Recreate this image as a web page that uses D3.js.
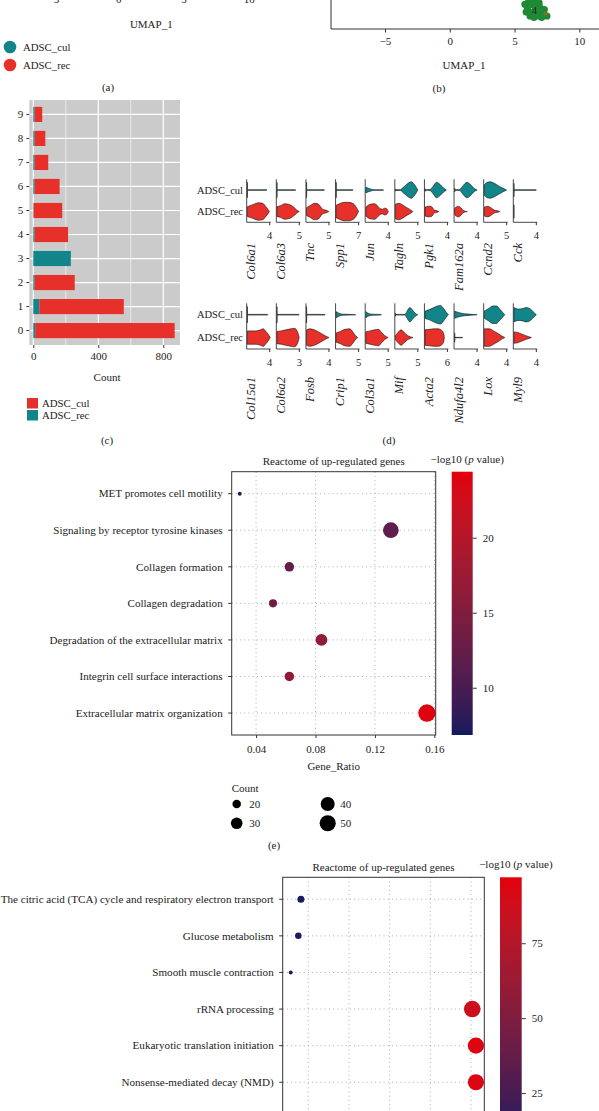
<!DOCTYPE html>
<html><head><meta charset="utf-8">
<script src="https://cdn.jsdelivr.net/npm/d3@7"></script>
<style>
html,body{margin:0;padding:0;background:#fff;}
svg{display:block;font-family:"Liberation Serif","Times New Roman",serif;}
</style></head>
<body>
<svg id="fig" width="599" height="1111"></svg>
<script>
// ---------------- DATA ----------------
// panel (a) / (b) UMAP
const umapTicks = [-5, 0, 5, 10];
const groupsA = ["ADSC_cul", "ADSC_rec"];
const blobPoints = [[6.0,-8.0],[6.3,-7.6],[6.6,-7.8],[6.9,-8.1],[7.2,-8.4],[6.2,-8.5],[6.5,-8.6],[6.8,-8.5],[7.1,-8.6],[5.8,-7.6],[6.1,-7.3],[7.3,-8.0],[7.5,-8.5],[6.4,-8.2],[6.9,-7.5],[5.9,-8.2],[6.6,-7.4],[7.0,-7.9]];
const blobOdd = [[7.4,-8.3]];
const blobLabel = "4";

// panel (c) cluster composition
const clusters = ["0","1","2","3","4","5","6","7","8","9"];
const countRec = [12, 37, 8, 231, 8, 2, 8, 8, 8, 8];
const countCul = [858, 520, 247, 0, 206, 176, 154, 84, 66, 47];
const countTicks = [0, 400, 800];
const countMinor = [200, 600];

// panel (d) stacked violins: [expression, density] profiles
const genesTop = ["Col6a1","Col6a3","Tnc","Spp1","Jun","Tagln","Pgk1","Fam162a","Ccnd2","Cck"];
const ticksTop = [4,5,5,7,4,5,4,4,5,4];
const culTop = [
  [[0,0.8],[0.05,0.04],[0.3,0.03],[3.5,0.03],[3.6,0]],
  [[0,0.8],[0.05,0.04],[0.3,0.03],[4.2,0.03],[4.3,0]],
  [[0,0.8],[0.05,0.04],[0.3,0.03],[4.0,0.03],[4.1,0]],
  [[0,0.8],[0.05,0.04],[0.3,0.03],[5.3,0.03],[5.4,0]],
  [[0,0.28],[0.8,0.12],[1.6,0.03],[3.2,0.02],[3.25,0]],
  [[0,0.12],[0.1,0.04],[1.1,0.04],[1.6,0.2],[2.6,0.6],[3.6,0.85],[4.3,0.6],[4.8,0.25],[5.1,0]],
  [[0,0.15],[0.08,0.03],[0.9,0.05],[1.5,0.4],[2.1,0.8],[2.8,0.55],[3.4,0.2],[3.9,0]],
  [[0,0.2],[0.08,0.03],[0.9,0.05],[1.6,0.5],[2.25,0.8],[3.0,0.5],[3.6,0.15],[4.1,0]],
  [[0,0.55],[0.7,0.8],[1.4,0.85],[2.3,0.7],[3.2,0.45],[4.2,0.2],[5.1,0]],
  [[0,0.7],[0.05,0.03],[2.0,0.03],[4.05,0.02],[4.1,0]]
];
const recTop = [
  [[0,0.5],[0.5,0.6],[1.2,0.75],[2.0,0.9],[2.8,0.85],[3.4,0.5],[3.8,0.2],[4.03,0]],
  [[0,0.5],[0.8,0.6],[1.8,0.8],[2.6,0.75],[3.4,0.6],[4.2,0.3],[4.7,0.1],[5.1,0]],
  [[0,0.4],[0.8,0.6],[1.8,0.85],[2.6,0.8],[3.2,0.5],[3.8,0.2],[4.4,0.15],[5.1,0]],
  [[0,0.65],[1.0,0.8],[2.5,0.95],[4.0,0.95],[5.5,0.8],[6.5,0.4],[7.15,0]],
  [[0,0.45],[0.8,0.75],[1.6,0.8],[2.2,0.55],[2.6,0.3],[3.1,0.25],[3.4,0.35],[3.8,0.3],[4.1,0]],
  [[0,0.75],[0.8,0.85],[1.6,0.7],[2.4,0.45],[3.2,0.25],[4.0,0]],
  [[0,0.45],[0.6,0.55],[1.2,0.5],[1.7,0.15],[2.2,0.08],[2.5,0]],
  [[0,0.35],[0.7,0.55],[1.2,0.35],[1.6,0.1],[2.3,0]],
  [[0,0.45],[0.8,0.55],[1.5,0.4],[2.3,0.15],[3.0,0.08],[3.55,0]],
  [[0,0.7],[0.02,0]]
];
const genesBot = ["Col15a1","Col6a2","Fosb","Crip1","Col3a1","Mif","Acta2","Ndufa4l2","Lox","Myl9"];
const ticksBot = [4,3,4,5,5,5,6,4,4,4];
const culBot = [
  [[0,0.8],[0.05,0.03],[0.3,0.03],[3.7,0.03],[3.75,0]],
  [[0,0.8],[0.05,0.03],[0.3,0.03],[3.0,0.03],[3.05,0]],
  [[0,0.8],[0.05,0.03],[0.3,0.03],[3.35,0.03],[3.4,0]],
  [[0,0.3],[0.6,0.15],[1.5,0.05],[3.5,0.03],[4.45,0]],
  [[0,0.3],[0.5,0.15],[1.5,0.05],[3.5,0.02],[3.55,0]],
  [[0,0.15],[0.05,0.03],[2.2,0.03],[2.6,0.3],[3.3,0.7],[3.9,0.45],[4.5,0.15],[5.1,0]],
  [[0,0.35],[1.2,0.5],[2.4,0.7],[3.4,0.85],[4.2,0.9],[5.2,0.55],[5.9,0.2],[6.4,0]],
  [[0,0.35],[0.8,0.2],[1.8,0.1],[3.0,0.04],[4.1,0]],
  [[0,0.35],[0.8,0.6],[1.6,0.85],[2.2,0.85],[2.9,0.5],[3.4,0.2],[3.75,0]],
  [[0,0.7],[0.8,0.55],[1.6,0.6],[2.2,0.7],[2.9,0.6],[3.5,0.3],[4.1,0]]
];
const recBot = [
  [[0,0.65],[0.8,0.65],[1.6,0.65],[2.4,0.75],[2.9,0.85],[3.4,0.6],[3.9,0.25],[4.2,0]],
  [[0,0.6],[0.6,0.65],[1.2,0.75],[1.9,0.85],[2.4,0.9],[2.8,0.6],[3.05,0]],
  [[0,0.75],[0.6,0.85],[1.4,0.75],[2.2,0.55],[3.0,0.3],[3.6,0.12],[4.1,0]],
  [[0,0.45],[1.0,0.6],[2.0,0.8],[3.1,0.85],[3.8,0.55],[4.4,0.2],[4.9,0]],
  [[0,0.55],[1.0,0.65],[2.0,0.75],[2.9,0.8],[3.6,0.5],[4.3,0.2],[5.1,0]],
  [[0,0.2],[0.6,0.5],[1.3,0.75],[2.0,0.5],[2.8,0.2],[3.4,0.08],[4.0,0]],
  [[0,0.75],[1.2,0.8],[2.4,0.85],[3.6,0.85],[4.6,0.7],[5.1,0.4],[5.3,0]],
  [[0,0.45],[0.03,0.02],[1.4,0.02],[1.45,0]],
  [[0,0.85],[0.9,0.85],[1.7,0.65],[2.5,0.4],[3.2,0.15],[3.75,0]],
  [[0,0.55],[0.7,0.5],[1.4,0.35],[2.2,0.18],[3.2,0]]
];

// panel (e) enrichment dot plot
const termsE = ["MET promotes cell motility","Signaling by receptor tyrosine kinases","Collagen formation","Collagen degradation","Degradation of the extracellular matrix","Integrin cell surface interactions","Extracellular matrix organization"];
const ratioE = [0.029, 0.1307, 0.0624, 0.0514, 0.084, 0.0624, 0.155];
const countE = [11, 48, 23, 19, 31, 23, 57];
const logpE = [7.5, 12.0, 12.5, 13.5, 16.3, 16.5, 24.0];
const ratioTicksE = [0.04, 0.08, 0.12, 0.16];
const logpTicksE = [10, 15, 20];
const sizeLegend = [20, 30, 40, 50];

// panel (f) enrichment dot plot (cropped)
const termsF = ["The citric acid (TCA) cycle and respiratory electron transport","Glucose metabolism","Smooth muscle contraction","rRNA processing","Eukaryotic translation initiation","Nonsense-mediated decay (NMD)",""];
const ratioF = [0.041, 0.0378, 0.0285, 0.2515, 0.256, 0.256, 0.2515];
const countF = [20, 18, 11, 80, 76, 76, 74];
const logpF = [12, 12, 11, 86, 94, 94, 90];
const ratioTicksF = [0.05, 0.10, 0.15, 0.20, 0.25];
const logpTicksF = [25, 50, 75];

// ---------------- DRAW ----------------
const svg = d3.select("#fig");
const TEAL = "#12858b", RED = "#e8302a", DARK = "#333";
const FS = 11;
function txt(g, x, y, s, anchor, size, extra) {
  const t = g.append("text").attr("x", x).attr("y", y).attr("text-anchor", anchor || "middle")
    .attr("font-size", size || FS).attr("fill", "#222").text(s);
  if (extra) extra(t);
  return t;
}
function styleAxisText(ax, size) {
  ax.selectAll("text").attr("font-family", "Liberation Serif").attr("font-size", size).attr("fill", "#222");
}

// ----- panel (a) remnants -----
(function(){
  const g = svg.append("g");
  const x = d3.scaleLinear().domain([-5, 10]).range([53.3, 249.3]);
  umapTicks.forEach(v => txt(g, x(v), 3, v < 0 ? "\u22125" : String(v), "middle", 11));
  txt(g, x(2.5), 28, "UMAP_1", "middle", 11);
  const cy = d3.scalePoint().domain(groupsA).range([47, 65]);
  const col = d3.scaleOrdinal().domain(groupsA).range([TEAL, RED]);
  groupsA.forEach(k => {
    g.append("circle").attr("cx", 10).attr("cy", cy(k)).attr("r", 6.3).attr("fill", col(k));
    txt(g, 23, cy(k) + 3.8, k, "start", 10.8);
  });
  txt(g, 108, 91, "(a)");
})();

// ----- panel (b) remnants -----
(function(){
  const g = svg.append("g");
  const x = d3.scaleLinear().domain([-5, 10]).range([385, 579.3]);
  const y = d3.scaleLinear().domain([-9.5, -7.27]).range([29, 0]);
  g.append("line").attr("x1", 331).attr("x2", 331).attr("y1", 0).attr("y2", 29).attr("stroke", DARK).attr("stroke-width", 1);
  const ax = g.append("g").attr("transform", "translate(0,29)")
    .call(d3.axisBottom(x).tickValues(umapTicks).tickSize(3.5).tickFormat(d => d < 0 ? "\u2212" + (-d) : d));
  ax.select(".domain").attr("d", "M331,0H599").attr("stroke", DARK);
  ax.selectAll(".tick line").attr("stroke", DARK);
  styleAxisText(ax, 11); ax.selectAll("text").attr("dy", "0.9em");
  g.selectAll("circle.b").data(blobPoints).join("circle").attr("class","b")
    .attr("cx", d => x(d[0])).attr("cy", d => y(d[1])).attr("r", 3.6).attr("fill", "#1f8a35");
  g.selectAll("circle.o").data(blobOdd).join("circle").attr("class","o")
    .attr("cx", d => x(d[0])).attr("cy", d => y(d[1])).attr("r", 2).attr("fill", "#8a6f1f");
  txt(g, x(6.55), y(-8.05) + 3.5, blobLabel, "middle", 10);
  txt(g, 464, 69, "UMAP_1", "middle", 11);
  txt(g, 439, 92, "(b)");
})();

// ----- panel (c) -----
(function(){
  const g = svg.append("g");
  const left = 29.3, right = 180, top = 100, bottom = 345;
  const x = d3.scaleLinear().domain([-24.6, 902.8]).range([left, right]);
  const y = d3.scaleBand().domain(clusters.slice().reverse()).range([top, bottom]).paddingInner(0.37).paddingOuter(0.285);
  g.append("rect").attr("x", left).attr("y", top).attr("width", right - left).attr("height", bottom - top).attr("fill", "#cbcbcb");
  countMinor.forEach(v => g.append("line").attr("x1", x(v)).attr("x2", x(v)).attr("y1", top).attr("y2", bottom).attr("stroke", "#fff").attr("stroke-width", 0.6));
  countTicks.forEach(v => g.append("line").attr("x1", x(v)).attr("x2", x(v)).attr("y1", top).attr("y2", bottom).attr("stroke", "#fff").attr("stroke-width", 1.2));
  clusters.forEach(c => g.append("line").attr("x1", left).attr("x2", right).attr("y1", y(c) + y.bandwidth()/2).attr("y2", y(c) + y.bandwidth()/2).attr("stroke", "#fff").attr("stroke-width", 1.2));
  clusters.forEach((c, i) => {
    g.append("rect").attr("x", x(0)).attr("y", y(c)).attr("width", x(countRec[i]) - x(0)).attr("height", y.bandwidth()).attr("fill", TEAL);
    if (countCul[i] > 0)
      g.append("rect").attr("x", x(countRec[i])).attr("y", y(c)).attr("width", x(countRec[i] + countCul[i]) - x(countRec[i])).attr("height", y.bandwidth()).attr("fill", RED);
  });
  const ax = g.append("g").attr("transform", `translate(0,${bottom})`).call(d3.axisBottom(x).tickValues(countTicks).tickSize(3));
  ax.select(".domain").remove();
  ax.selectAll(".tick line").attr("stroke", DARK);
  styleAxisText(ax, 11); ax.selectAll("text").attr("dy", "0.85em");
  const ay = g.append("g").attr("transform", `translate(${left},0)`).call(d3.axisLeft(y).tickSize(3));
  ay.select(".domain").remove();
  ay.selectAll(".tick line").attr("stroke", DARK);
  styleAxisText(ay, 11);
  txt(g, 107, 381, "Count", "middle", 11);
  const leg = [["ADSC_cul", RED], ["ADSC_rec", TEAL]];
  const ly = d3.scalePoint().domain(leg.map(d => d[0])).range([398, 410]);
  leg.forEach(([k, c]) => {
    g.append("rect").attr("x", 27).attr("y", ly(k)).attr("width", 11).attr("height", 10.5).attr("fill", c);
    txt(g, 42, ly(k) + 8.8, k, "start", 10.8);
  });
  txt(g, 107, 444, "(c)");
})();

// ----- panel (d) stacked violins -----
function violinRow(genes, ticks, cul, rec, top, bottom, labelY) {
  const g = svg.append("g");
  const xb = d3.scaleBand().domain(genes).range([246.7, 537.3]).paddingInner(0.19);
  const yb = d3.scaleBand().domain(groupsA).range([top, bottom]);
  const hs = d3.scaleLinear().domain([0, 1]).range([0, yb.bandwidth() * 0.45]);
  groupsA.forEach(k => txt(g, 243, yb(k) + yb.bandwidth()/2 + 3.6, k, "end", 10.5));
  genes.forEach((gene, i) => {
    const L = xb(gene);
    const x = d3.scaleLinear().domain([0, ticks[i]]).range([L + 0.6, L + 22.5]);
    [[cul[i], "ADSC_cul", TEAL], [rec[i], "ADSC_rec", RED]].forEach(([prof, grp, col]) => {
      const cy = yb(grp) + yb.bandwidth()/2;
      const area = d3.area().x(d => x(d[0])).y0(d => cy - hs(d[1])).y1(d => cy + hs(d[1])).curve(d3.curveMonotoneX);
      g.append("path").attr("d", area(prof)).attr("fill", col).attr("stroke", "#111").attr("stroke-width", 0.6).attr("stroke-linejoin", "round");
    });
    g.append("line").attr("x1", L).attr("x2", L).attr("y1", top).attr("y2", bottom).attr("stroke", DARK).attr("stroke-width", 0.9);
    const ax = g.append("g").attr("transform", `translate(0,${bottom})`).call(d3.axisBottom(x).tickValues([ticks[i]]).tickSize(3).tickFormat(d3.format("d")));
    ax.select(".domain").attr("d", `M${L},0H${L + xb.bandwidth()}`).attr("stroke", DARK).attr("stroke-width", 0.9);
    ax.selectAll(".tick line").attr("stroke", DARK);
    styleAxisText(ax, 10.5); ax.selectAll("text").attr("dy", "1.0em");
    g.append("text").attr("transform", `translate(${L + 8.5},${labelY}) rotate(-90)`).attr("text-anchor", "end")
      .attr("font-size", 12.5).attr("font-style", "italic").attr("fill", "#222").text(gene);
  });
}
violinRow(genesTop, ticksTop, culTop, recTop, 179.3, 222.3, 243);
violinRow(genesBot, ticksBot, culBot, recBot, 303.3, 349, 377);
txt(svg, 389, 444, "(d)");

// ----- dot plots (e) and (f) -----
const colorLow = "#121a5e", colorHigh = "#e2000b";
function dotPlot(cfg) {
  const g = svg.append("g");
  const x = d3.scaleLinear().domain(cfg.xDomain).range([cfg.left, cfg.right]);
  const y = d3.scalePoint().domain(cfg.terms.map((t, i) => i)).range([cfg.top, cfg.top + cfg.step * (cfg.terms.length - 1 + 1.2)]).padding(0.6);
  const color = d3.scaleLinear().domain(cfg.cDomain).range([colorLow, colorHigh]).interpolate(d3.interpolateLab).clamp(true);
  const r = d3.scaleRadial().domain(cfg.sizeDomain).range(cfg.sizeRange);
  const bottom = cfg.bottom;
  cfg.xTicks.forEach(v => g.append("line").attr("x1", x(v)).attr("x2", x(v)).attr("y1", cfg.top).attr("y2", bottom)
    .attr("stroke", "#999").attr("stroke-width", 0.8).attr("stroke-dasharray", "1,3.2"));
  cfg.terms.forEach((t, i) => g.append("line").attr("x1", cfg.left).attr("x2", cfg.right).attr("y1", y(i)).attr("y2", y(i))
    .attr("stroke", "#999").attr("stroke-width", 0.8).attr("stroke-dasharray", "1,3.2"));
  cfg.terms.forEach((t, i) => g.append("circle").attr("cx", x(cfg.ratio[i])).attr("cy", y(i)).attr("r", r(cfg.count[i])).attr("fill", color(cfg.logp[i])));
  g.append("rect").attr("x", cfg.left).attr("y", cfg.top).attr("width", cfg.right - cfg.left).attr("height", bottom - cfg.top)
    .attr("fill", "none").attr("stroke", DARK).attr("stroke-width", 1);
  cfg.terms.forEach((t, i) => {
    g.append("line").attr("x1", cfg.left - 3.5).attr("x2", cfg.left).attr("y1", y(i)).attr("y2", y(i)).attr("stroke", DARK);
    if (t) txt(g, cfg.left - 9, y(i) + 3.8, t, "end", cfg.labelSize);
  });
  if (cfg.showX) {
    const ax = g.append("g").attr("transform", `translate(0,${bottom})`).call(d3.axisBottom(x).tickValues(cfg.xTicks).tickSize(3).tickFormat(d3.format(".2f")));
    ax.select(".domain").remove();
    ax.selectAll(".tick line").attr("stroke", DARK);
    styleAxisText(ax, 11); ax.selectAll("text").attr("dy", "1.05em");
    txt(g, (cfg.left + cfg.right) / 2, bottom + 35, "Gene_Ratio", "middle", 11);
  }
  txt(g, (cfg.left + cfg.right) / 2, cfg.top - 6.5, "Reactome of up-regulated genes", "middle", 11);
  const cb = d3.scaleLinear().domain(cfg.cDomain).range([cfg.cbBottom, cfg.top]);
  const gid = "grad" + cfg.id;
  const grad = svg.append("defs").append("linearGradient").attr("id", gid).attr("x1", 0).attr("y1", 1).attr("x2", 0).attr("y2", 0);
  d3.range(0, 1.0001, 0.05).forEach(f => {
    const v = cfg.cDomain[0] + f * (cfg.cDomain[1] - cfg.cDomain[0]);
    grad.append("stop").attr("offset", f).attr("stop-color", color(v));
  });
  g.append("rect").attr("x", cfg.cbX).attr("y", cfg.top).attr("width", cfg.cbW).attr("height", cfg.cbBottom - cfg.top).attr("fill", `url(#${gid})`);
  const ac = g.append("g").attr("transform", `translate(${cfg.cbX + cfg.cbW},0)`).call(d3.axisRight(cb).tickValues(cfg.cTicks).tickSize(4).tickPadding(6));
  ac.select(".domain").remove();
  ac.selectAll(".tick line").attr("stroke", DARK);
  styleAxisText(ac, 11);
  const tt = g.append("text").attr("x", cfg.cbX + cfg.cbW / 2 + 5).attr("y", cfg.top - 9).attr("text-anchor", "middle").attr("font-size", 11).attr("fill", "#222");
  tt.append("tspan").text("\u2212log10 (");
  tt.append("tspan").attr("font-style", "italic").text("p");
  tt.append("tspan").text(" value)");
  return {g, r};
}

const e = dotPlot({id: "e", terms: termsE, ratio: ratioE, count: countE, logp: logpE,
  xDomain: [0.0236, 0.1609], left: 231.7, right: 435.7, top: 471.7, bottom: 735, step: 36.57,
  xTicks: ratioTicksE, cDomain: [6.85, 24.4], cTicks: logpTicksE, sizeDomain: [11, 57], sizeRange: [2, 8.7],
  cbX: 451.7, cbW: 21, cbBottom: 735, showX: true, labelSize: 11.1});
(function(){
  const g = svg.append("g");
  txt(g, 231.7, 792, "Count", "start", 11);
  const lx = d3.scalePoint().domain([0, 1]).range([236.7, 327.7]);
  const ly = d3.scalePoint().domain([0, 1]).range([804, 823.3]);
  sizeLegend.forEach((c, i) => {
    const col = Math.floor(i / 2), row = i % 2;
    g.append("circle").attr("cx", lx(col)).attr("cy", ly(row)).attr("r", e.r(c)).attr("fill", "#000");
    txt(g, lx(col) + 12.5, ly(row) + 3.8, String(c), "start", 11);
  });
  txt(g, 274, 849, "(e)");
})();

dotPlot({id: "f", terms: termsF, ratio: ratioF, count: countF, logp: logpF,
  xDomain: [0.0186, 0.2663], left: 282.7, right: 484.3, top: 877.3, bottom: 1200, step: 36.6,
  xTicks: ratioTicksF, cDomain: [10, 97], cTicks: logpTicksF, sizeDomain: [11, 80], sizeRange: [2, 8.3],
  cbX: 500, cbW: 21.7, cbBottom: 1138, showX: false, labelSize: 11.1});
</script>
</body></html>
